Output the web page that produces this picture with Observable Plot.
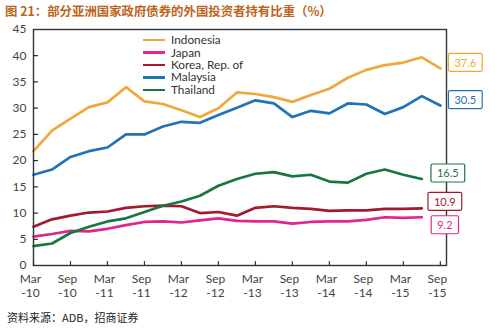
<!DOCTYPE html>
<html><head><meta charset="utf-8">
<script src="https://cdn.jsdelivr.net/npm/d3@7"></script>
<script src="https://cdn.jsdelivr.net/npm/@observablehq/plot@0.6"></script>
<style>
body{margin:0;background:#fff;width:495px;height:331px;overflow:hidden;position:relative;font-family:Lato,sans-serif}
#title{height:22px;line-height:22px;padding-left:5px;font-weight:bold;font-size:12.4px;font-family:"Noto Sans CJK SC";color:#BC6420;white-space:nowrap}
#caption{height:20px;line-height:20px;padding-left:7px;font-size:11px;font-family:"Noto Sans CJK SC";color:#222;white-space:nowrap}
#legend{position:absolute;left:143px;top:34px;font-family:Lato;font-size:11.8px;color:#333}
#legend .row{height:12.4px;line-height:12px;display:flex;align-items:center;white-space:nowrap}
#legend .sw{width:22px;height:2.5px;margin-right:6px}
svg{display:block}
</style></head><body>
<div id="title">图 21：部分亚洲国家政府债券的外国投资者持有比重（%）</div>
<div id="chart"></div>
<div id="caption">资料来源：ADB，招商证券</div>
<div id="legend"></div>
<script>
// ---- data ----
const quarters = ["2010-03","2010-06","2010-09","2010-12","2011-03","2011-06","2011-09","2011-12",
  "2012-03","2012-06","2012-09","2012-12","2013-03","2013-06","2013-09","2013-12",
  "2014-03","2014-06","2014-09","2014-12","2015-03","2015-06","2015-09"];
const seriesNames = ["Indonesia","Japan","Korea, Rep. of","Malaysia","Thailand"];
const indonesia = [21.8,25.7,28.0,30.2,31.1,34.0,31.3,30.8,29.6,28.3,30.0,33.0,32.7,32.1,31.2,32.5,33.7,35.8,37.3,38.2,38.7,39.7,37.6];
const japan     = [5.5,6.0,6.6,6.5,7.0,7.7,8.3,8.4,8.2,8.6,9.0,8.5,8.4,8.4,8.0,8.3,8.4,8.4,8.7,9.2,9.1,9.2];
const korea     = [7.4,8.8,9.5,10.1,10.3,11.0,11.3,11.4,11.3,10.0,10.2,9.5,11.0,11.3,11.0,10.8,10.4,10.5,10.5,10.8,10.8,10.9];
const malaysia  = [17.3,18.3,20.7,21.8,22.5,25.0,25.0,26.5,27.4,27.2,28.7,30.1,31.5,30.9,28.3,29.5,29.0,30.9,30.7,28.9,30.2,32.3,30.5];
const thailand  = [3.7,4.2,6.2,7.4,8.4,9.0,10.2,11.4,12.2,13.3,15.2,16.5,17.5,17.8,17.0,17.3,16.0,15.8,17.5,18.3,17.3,16.5];
const endLabels = ["37.6","9.2","10.9","30.5","16.5"];
const xTickQuarters = ["2010-03","2010-09","2011-03","2011-09","2012-03","2012-09","2013-03","2013-09","2014-03","2014-09","2015-03","2015-09"];
const xTickLabels = ["Mar\n-10","Sep\n-10","Mar\n-11","Sep\n-11","Mar\n-12","Sep\n-12","Mar\n-13","Sep\n-13","Mar\n-14","Sep\n-14","Mar\n-15","Sep\n-15"];
const yTicks = [0,5,10,15,20,25,30,35,40,45];

// ---- styles ----
const colors = ["#F0A83A","#E2248C","#A3192F","#2272B6","#18773F"];
const labelOffsets = [[25,-5],[23,8.5],[23,-6],[25,-5],[26,-5]];

const values = [indonesia, japan, korea, malaysia, thailand];
const monthIndex = q => { const [y,m] = q.split("-").map(Number); return (y-2010)*12 + (m-3); };
const rows = [];
values.forEach((arr, s) => arr.forEach((v, i) => rows.push({series: seriesNames[s], x: monthIndex(quarters[i]), y: v})));
const ends = values.map((arr, s) => ({series: seriesNames[s], x: monthIndex(quarters[arr.length-1]), y: arr[arr.length-1],
  text: endLabels[s], color: colors[s], dx: labelOffsets[s][0], dy: labelOffsets[s][1]}));
const tickMonths = xTickQuarters.map(monthIndex);

const tickShape = {draw(context, l) { context.moveTo(0, 0); context.lineTo(0, -l); }};

const chart = Plot.plot({
  width: 495, height: 285,
  marginTop: 7, marginLeft: 33, marginRight: 49, marginBottom: 42,
  x: {domain: [0, 67], axis: null},
  y: {domain: [0, 45], axis: null},
  color: {domain: seriesNames, range: colors},
  style: {fontFamily: "Lato", fontSize: "12px", color: "#444", background: "transparent", overflow: "visible"},
  marks: [
    Plot.axisY(yTicks, {tickSize: 0, tickPadding: 7, fontSize: 12, fill: "#444", label: null}),
    Plot.axisX(tickMonths, {tickSize: 0, tickPadding: 8, fontSize: 12, fill: "#444", lineHeight: 1.15, dx: -3, label: null,
      tickFormat: d => xTickLabels[tickMonths.indexOf(d)]}),
    Plot.vector(yTicks, {x: 0, y: d => d, rotate: 90, length: 4, anchor: "start", shape: tickShape, stroke: "#333", strokeWidth: 1.2}),
    Plot.vector(tickMonths, {x: d => d, y: 0, rotate: 0, length: 4, anchor: "start", shape: tickShape, stroke: "#333", strokeWidth: 1.2}),
    Plot.line(rows, {x: "x", y: "y", z: "series", stroke: "series", strokeWidth: 2.7, curve: "linear"}),
    Plot.frame({stroke: "#333", strokeWidth: 1.4}),
    ...ends.map(e => Plot.text([e], {x: "x", y: "y", text: "text", dx: e.dx, dy: e.dy, fill: e.color, fontSize: 11}))
  ]
});
document.getElementById("chart").appendChild(chart);

// boxes behind end labels
chart.querySelectorAll("text").forEach(t => {
  const k = endLabels.indexOf(t.textContent.trim());
  if (k < 0) return;
  const b = t.getBBox();
  const padX = 6, padY = 3;
  const r = document.createElementNS("http://www.w3.org/2000/svg", "rect");
  r.setAttribute("x", b.x - padX); r.setAttribute("y", b.y - padY + 0.5);
  r.setAttribute("width", b.width + 2*padX); r.setAttribute("height", b.height + 2*padY - 1);
  r.setAttribute("rx", 1.5);
  r.setAttribute("fill", "#fff");
  r.setAttribute("stroke", colors[k]);
  r.setAttribute("stroke-width", 1.2);
  if (t.getAttribute("transform")) r.setAttribute("transform", t.getAttribute("transform"));
  t.parentNode.insertBefore(r, t);
});

// legend
const leg = document.getElementById("legend");
seriesNames.forEach((n, i) => {
  const row = document.createElement("div"); row.className = "row";
  const sw = document.createElement("div"); sw.className = "sw"; sw.style.background = colors[i];
  const tx = document.createElement("span"); tx.textContent = n;
  row.appendChild(sw); row.appendChild(tx); leg.appendChild(row);
});
</script>
</body></html>
